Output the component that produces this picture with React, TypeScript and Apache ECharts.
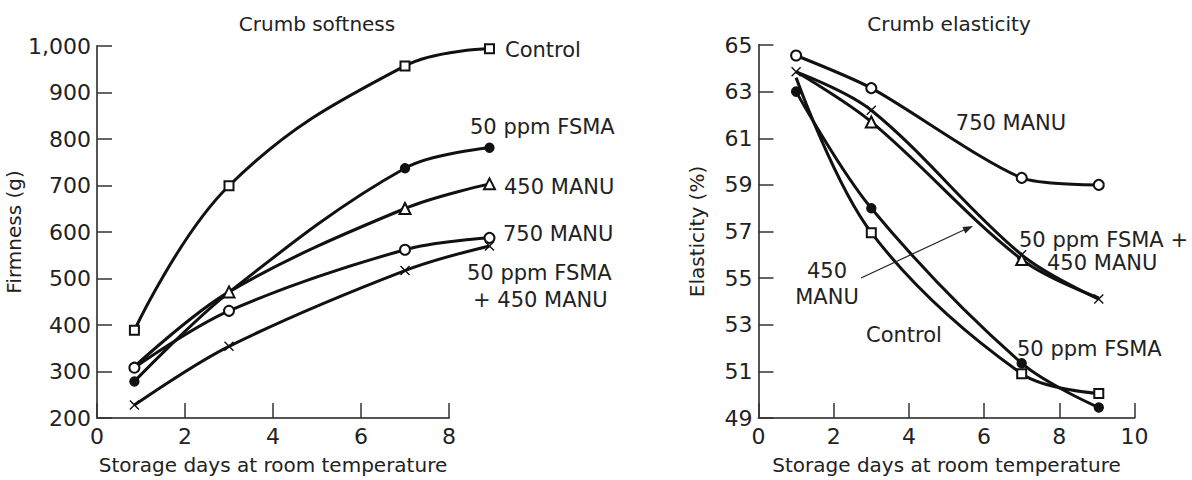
import React, { useEffect, useRef } from "react";
import * as echarts from "echarts";

// ---- Data ----
const firmDays = [0.85, 3, 7, 8.92];
const firmControl = [400, 705, 958, 994];
const firmFsma50 = [292, 480, 742, 785];
const firmManu450 = [323, 481, 657, 709];
const firmManu750 = [321, 441, 570, 595];
const firmFsmaManu = [242, 366, 526, 578];
const firmYTicks = [200, 300, 400, 500, 600, 700, 800, 900, 1000];

const elasDays = [1, 3, 7, 9.05];
const elasControl = [63.6, 56.95, 50.9, 50.05];
const elasFsma50 = [63.0, 58.0, 51.35, 49.45];
const elasManu450 = [63.85, 61.7, 55.8, 54.15];
const elasManu750 = [64.55, 63.15, 59.3, 59.0];
const elasFsmaManu = [63.85, 62.2, 56.0, 54.1];
const elasYTicks = [49, 51, 53, 55, 57, 59, 61, 63, 65];

const FONT = '"DejaVu Sans", sans-serif';
const INK = "#222";
const XSYM = "path://M0,0L10,10M10,0L0,10";

function pts(xs: number[], ys: number[], hidden: number[] = []) {
  return xs.map((x, i) =>
    hidden.includes(i) ? { value: [x, ys[i]], symbol: "none" } : { value: [x, ys[i]] }
  );
}

function lineSeries(name: string, data: any[], symbol: string, size: number, idx: number, smooth = 0.35) {
  return {
    type: "line",
    name,
    xAxisIndex: idx,
    yAxisIndex: idx,
    data,
    smooth,
    symbol,
    symbolSize: size,
    showAllSymbol: true,
    lineStyle: { color: "#111", width: 3 },
    itemStyle: { color: "#111", borderColor: "#111", borderWidth: 1.4 },
    emphasis: { disabled: true },
    z: 3,
  };
}

function txt(text: string, x: number, y: number, align = "left", size = 21) {
  return {
    type: "text",
    x,
    y,
    z: 10,
    style: { text, font: `${size}px ${FONT}`, fill: INK, align, verticalAlign: "middle" },
  };
}

export default function App() {
  const ref = useRef<HTMLDivElement>(null);
  useEffect(() => {
    if (!ref.current) return;
    const chart = echarts.init(ref.current, null, { renderer: "svg" });
    const axisLine = { show: true, lineStyle: { color: "#555", width: 2 } };
    const axisTick = { show: true, inside: true, length: 15, lineStyle: { color: "#333", width: 1.5 } };
    const axisLabel = { fontSize: 22, fontFamily: FONT, color: INK };
    const nameStyle = { fontSize: 20, fontFamily: FONT, color: INK };
    const xName = "Storage days at room temperature";
    chart.setOption({
      animation: false,
      textStyle: { fontFamily: FONT },
      grid: [
        { left: 97, top: 46, width: 352, height: 379 },
        { left: 97, top: 46, width: 440, height: 379 },
        { left: 758.5, top: 45, width: 376, height: 380 },
      ],
      xAxis: [
        {
          gridIndex: 0, type: "value", min: 0, max: 8, interval: 2,
          axisLine, axisTick, splitLine: { show: false },
          axisLabel: { ...axisLabel, margin: 7 },
          name: xName, nameLocation: "middle", nameGap: 37, nameTextStyle: nameStyle,
        },
        { gridIndex: 1, type: "value", min: 0, max: 10, show: false },
        {
          gridIndex: 2, type: "value", min: 0, max: 10, interval: 2,
          axisLine, axisTick, splitLine: { show: false },
          axisLabel: { ...axisLabel, margin: 7 },
          name: xName, nameLocation: "middle", nameGap: 37, nameTextStyle: nameStyle,
        },
      ],
      yAxis: [
        {
          gridIndex: 0, type: "value", min: 200, max: 1000, interval: 100,
          axisLine, axisTick, splitLine: { show: false },
          axisLabel: {
            ...axisLabel, margin: 6,
            formatter: (v: number) => (v >= 1000 ? v.toLocaleString("en-US") : String(v)),
            customValues: firmYTicks,
          },
          name: "Firmness (g)", nameLocation: "middle", nameGap: 63, nameTextStyle: nameStyle,
        },
        { gridIndex: 1, type: "value", min: 200, max: 1000, show: false },
        {
          gridIndex: 2, type: "value", min: 49, max: 65,
          axisLine,
          axisTick: { ...axisTick, customValues: elasYTicks },
          splitLine: { show: false },
          axisLabel: { ...axisLabel, margin: 6, customValues: elasYTicks },
          name: "Elasticity (%)", nameLocation: "middle", nameGap: 52, nameTextStyle: nameStyle,
        },
      ],
      series: [
        lineSeries("Control", pts(firmDays, firmControl), "emptyRect", 9, 1, 0.4),
        lineSeries("50 ppm FSMA", pts(firmDays, firmFsma50, [1]), "circle", 9, 1),
        lineSeries("450 MANU", pts(firmDays, firmManu450, [0]), "emptyTriangle", 11, 1),
        lineSeries("750 MANU", pts(firmDays, firmManu750), "emptyCircle", 10, 1),
        lineSeries("50 ppm FSMA + 450 MANU", pts(firmDays, firmFsmaManu), XSYM, 9, 1),
        lineSeries("Control", pts(elasDays, elasControl, [0]), "emptyRect", 9, 2),
        lineSeries("50 ppm FSMA", pts(elasDays, elasFsma50), "circle", 9, 2),
        lineSeries("450 MANU", pts(elasDays, elasManu450, [0, 3]), "emptyTriangle", 11, 2),
        lineSeries("750 MANU", pts(elasDays, elasManu750), "emptyCircle", 10, 2, 0.25),
        lineSeries("50 ppm FSMA + 450 MANU", pts(elasDays, elasFsmaManu), XSYM, 9, 2),
      ],
      graphic: [
        txt("Crumb softness", 317, 24, "center", 20),
        txt("Crumb elasticity", 949, 24, "center", 20),
        txt("Control", 505, 50),
        txt("50 ppm FSMA", 470, 127),
        txt("450 MANU", 504, 187),
        txt("750 MANU", 503, 234),
        txt("50 ppm FSMA", 467, 273),
        txt("+ 450 MANU", 473, 300),
        txt("750 MANU", 1011, 123, "center"),
        txt("50 ppm FSMA +", 1019, 240),
        txt("450 MANU", 1047, 263),
        txt("450", 827, 271, "center"),
        txt("MANU", 827, 297, "center"),
        txt("Control", 904, 335, "center"),
        txt("50 ppm FSMA", 1017, 349),
        {
          type: "line", z: 10,
          shape: { x1: 861, y1: 278, x2: 966, y2: 229 },
          style: { stroke: "#222", lineWidth: 1.2 },
        },
        {
          type: "polygon", z: 10,
          shape: { points: [[973, 226], [965.4, 233.4], [962.4, 227.0]] },
          style: { fill: "#222" },
        },
      ],
    });
    return () => chart.dispose();
  }, []);
  return (
    <div
      ref={ref}
      style={{ position: "fixed", left: 0, top: 0, width: 1192, height: 480, background: "#fff" }}
    />
  );
}
